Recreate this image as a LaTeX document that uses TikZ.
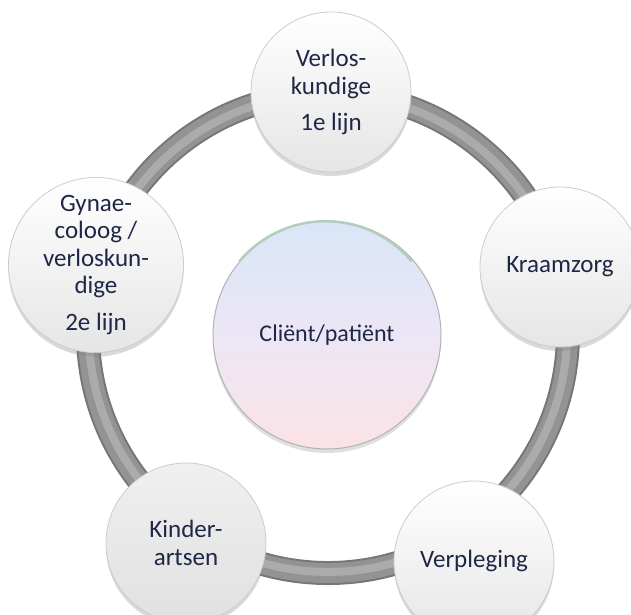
\documentclass[tikz,border=0pt]{standalone}
\usepackage{fontspec}
\setmainfont{Carlito}
\usetikzlibrary{shadows}
\definecolor{txtblue}{HTML}{1F2747}
\definecolor{ringdark}{HTML}{767676}
\definecolor{ringmid}{HTML}{939393}
\definecolor{ringlight}{HTML}{ABABAB}
\definecolor{hubtop}{HTML}{D9E6F7}
\definecolor{hubmid}{HTML}{ECE6F5}
\definecolor{hubbot}{HTML}{FBE3E5}
\definecolor{hubrim}{HTML}{B5CDBB}
\tikzset{
  sat/.style={circle, minimum size=160pt, inner sep=0pt, draw=gray!40, line width=0.8pt,
    top color=white, bottom color=gray!20, text=txtblue, align=center,
    drop shadow={shadow xshift=0pt, shadow yshift=-4pt, opacity=0.3},
    font=\fontsize{25}{27.5}\selectfont},
  hub/.style={circle, minimum size=228pt, inner sep=0pt, draw=gray!60, line width=1pt,
    top color=hubtop, bottom color=hubbot, middle color=hubmid, text=txtblue,
    drop shadow={shadow xshift=0pt, shadow yshift=-4pt, opacity=0.25},
    font=\fontsize{24}{27.5}\selectfont},
}
\begin{document}
\begin{tikzpicture}[x=1pt, y=-1pt]
  \clip (0,0) rectangle (631,614);
  % ring
  \coordinate (mid) at (328,333);
  \draw[ringdark, line width=24pt] (mid) circle (240);
  \draw[ringmid, line width=20pt] (mid) circle (240);
  \draw[ringlight, line width=8pt] (mid) circle (239);

  % centre
  \node[hub] (client) at (327,335) {Cliënt/patiënt};
  \draw[hubrim, line width=2.5pt] (client.140) arc[start angle=-140, end angle=-40, radius=112.5];

  % around
  \node[sat] (verlos) at (331,92) {Verlos-\\kundige\\[9pt]1e lijn};
  \node[sat] (kraam) at (560,267) {Kraamzorg};
  \node[sat] (verpl) at (474,561) {Verpleging};
  \node[sat, top color=gray!12, bottom color=gray!24] (kinder) at (186,543) {Kinder-\\artsen};
  \node[sat] (gynae) at (96,265) {Gynae-\\coloog /\\verloskun-\\dige\\[9pt]2e lijn};
\end{tikzpicture}
\end{document}
